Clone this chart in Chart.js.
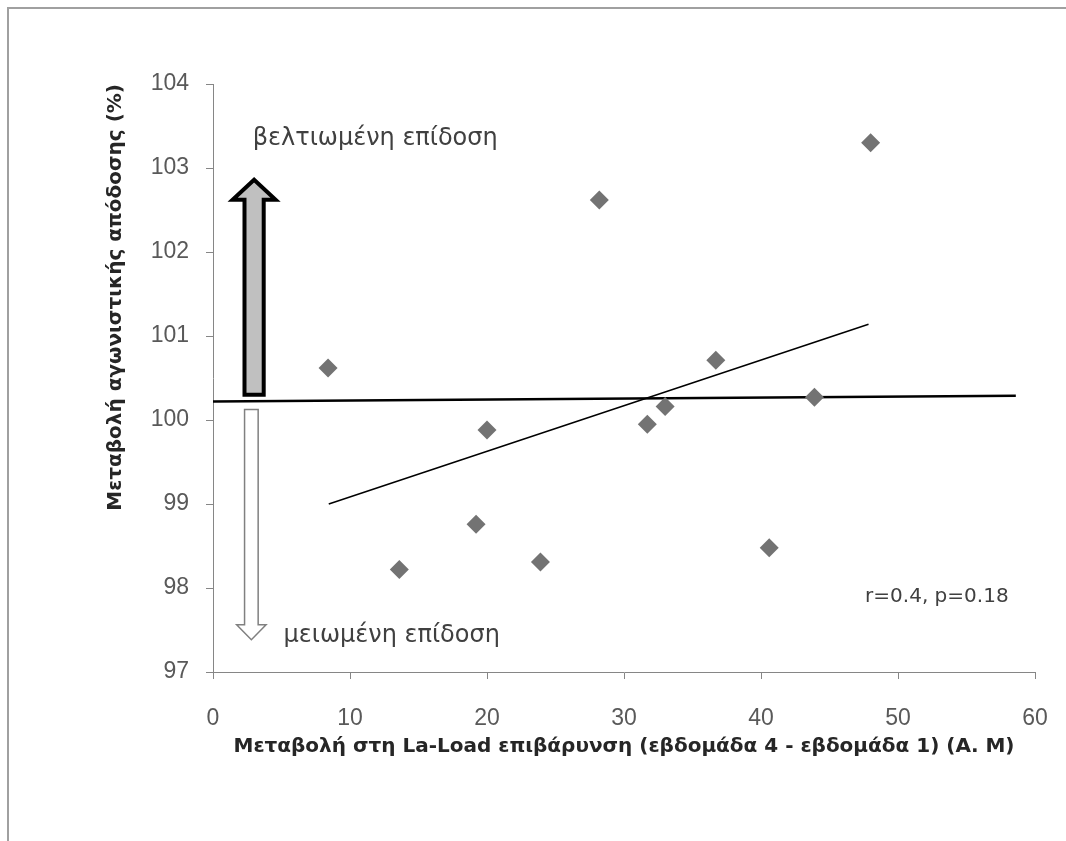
<!DOCTYPE html>
<html><head><meta charset="utf-8">
<script src="https://cdn.jsdelivr.net/npm/chart.js@4"></script>
<style>html,body{margin:0;padding:0;background:#fff;}#wrap{width:1066px;height:841px;position:relative;}</style>
</head><body><div id="wrap"><canvas id="c" width="1066" height="841" style="width:1066px;height:841px"></canvas></div>
<script>
// ---- data ----
const loadChange = [8.4, 13.6, 19.2, 20.0, 23.9, 28.2, 31.7, 33.0, 36.7, 40.6, 43.9, 48.0];
const perfChange = [100.62, 98.22, 98.76, 99.88, 98.31, 102.62, 99.95, 100.16, 100.71, 98.48, 100.27, 103.30];
const trendX = [8.45, 47.85];
const trendY = [99.0, 101.14];
const baseX = [0, 58.6];
const baseY = [100.22, 100.29];
const xTicks = [0, 10, 20, 30, 40, 50, 60];
const yTicks = [97, 98, 99, 100, 101, 102, 103, 104];
const xTitle = 'Μεταβολή στη La-Load επιβάρυνση (εβδομάδα 4 - εβδομάδα 1) (Α. Μ)';
const yTitle = 'Μεταβολή αγωνιστικής απόδοσης (%)';
const noteUp = 'βελτιωμένη επίδοση';
const noteDown = 'μειωμένη επίδοση';
const statNote = 'r=0.4, p=0.18';
// annotation anchors in data units
const upArrow = {x: 3.0, from: 100.30, to: 102.86};
const downArrow = {x: 2.8, from: 100.126, to: 97.385};
const noteUpPos = {x: 2.9, y: 103.35};
const noteDownPos = {x: 5.15, y: 97.43};
const statPos = {x: 47.6, y: 97.89};

const FONT = "'Liberation Sans', Arial, sans-serif";
const TFONT = "'DejaVu Sans', 'Liberation Sans', sans-serif";

function arrowPath(ctx, cx, yB, yT, sh, hh, hl) {
  const dir = yT < yB ? 1 : -1;
  const yH = yT + dir * hl;
  ctx.beginPath();
  ctx.moveTo(cx - sh, yB);
  ctx.lineTo(cx - sh, yH);
  ctx.lineTo(cx - hh, yH);
  ctx.lineTo(cx, yT);
  ctx.lineTo(cx + hh, yH);
  ctx.lineTo(cx + sh, yH);
  ctx.lineTo(cx + sh, yB);
  ctx.closePath();
}

const decor = {
  id: 'decor',
  beforeDraw(chart) {
    const ctx = chart.ctx;
    ctx.save();
    ctx.fillStyle = '#fff';
    ctx.fillRect(0, 0, chart.width, chart.height);
    ctx.strokeStyle = '#a0a0a0';
    ctx.lineWidth = 2;
    ctx.beginPath();
    ctx.moveTo(8, chart.height);
    ctx.lineTo(8, 8);
    ctx.lineTo(chart.width, 8);
    ctx.stroke();
    ctx.restore();
  },
  afterDatasetsDraw(chart) {
    const ctx = chart.ctx;
    const xs = chart.scales.x, ys = chart.scales.y;
    ctx.save();
    arrowPath(ctx, xs.getPixelForValue(upArrow.x), ys.getPixelForValue(upArrow.from), ys.getPixelForValue(upArrow.to), 9.6, 21.5, 20);
    ctx.fillStyle = '#c0c0c0';
    ctx.fill();
    ctx.lineJoin = 'miter';
    ctx.lineWidth = 4;
    ctx.strokeStyle = '#000';
    ctx.stroke();
    arrowPath(ctx, xs.getPixelForValue(downArrow.x), ys.getPixelForValue(downArrow.from), ys.getPixelForValue(downArrow.to), 6.8, 14.7, 15);
    ctx.fillStyle = '#fff';
    ctx.fill();
    ctx.lineWidth = 1.5;
    ctx.strokeStyle = '#808080';
    ctx.stroke();
    ctx.fillStyle = '#404040';
    ctx.textBaseline = 'middle';
    ctx.textAlign = 'left';
    ctx.font = '24px ' + TFONT;
    ctx.fillText(noteUp, xs.getPixelForValue(noteUpPos.x), ys.getPixelForValue(noteUpPos.y));
    ctx.fillText(noteDown, xs.getPixelForValue(noteDownPos.x), ys.getPixelForValue(noteDownPos.y));
    ctx.font = '20px ' + TFONT;
    ctx.fillText(statNote, xs.getPixelForValue(statPos.x), ys.getPixelForValue(statPos.y));
    ctx.restore();
  }
};

const points = loadChange.map((x, i) => ({x, y: perfChange[i]}));
const trend = trendX.map((x, i) => ({x, y: trendY[i]}));
const base = baseX.map((x, i) => ({x, y: baseY[i]}));

new Chart(document.getElementById('c'), {
  type: 'scatter',
  data: {
    datasets: [
      {data: base, showLine: true, borderColor: '#000', borderWidth: 2.5, pointRadius: 0, order: 3},
      {data: trend, showLine: true, borderColor: '#000', borderWidth: 1.5, pointRadius: 0, order: 2},
      {data: points, pointStyle: 'rectRot', pointRadius: 9.5, pointBackgroundColor: '#737373', pointBorderWidth: 0, pointBorderColor: '#737373', order: 1}
    ]
  },
  options: {
    responsive: false,
    animation: false,
    events: [],
    layout: {padding: {left: 104, top: 84, right: 31, bottom: 82}},
    plugins: {legend: {display: false}, tooltip: {enabled: false}},
    scales: {
      x: {
        type: 'linear', min: 0, max: 60,
        afterBuildTicks: s => { s.ticks = xTicks.map(v => ({value: v})); },
        afterFit: s => { s.height = 87; s.paddingLeft = 0; s.paddingRight = 0; },
        grid: {drawOnChartArea: false, drawTicks: true, tickLength: 7, color: '#868686'},
        border: {color: '#868686', width: 1},
        ticks: {font: {family: FONT, size: 23}, color: '#595959', padding: 26, maxRotation: 0},
        title: {display: true, text: xTitle, font: {family: TFONT, size: 20, weight: 'bold'}, color: '#262626', padding: 0}
      },
      y: {
        type: 'linear', min: 97, max: 104,
        afterBuildTicks: s => { s.ticks = yTicks.map(v => ({value: v})); },
        afterFit: s => { s.width = 109; s.paddingTop = 0; s.paddingBottom = 0; },
        grid: {drawOnChartArea: false, drawTicks: true, tickLength: 7, color: '#868686'},
        border: {color: '#868686', width: 1},
        ticks: {font: {family: FONT, size: 23}, color: '#595959', padding: 17},
        title: {display: true, text: yTitle, align: 'end', font: {family: TFONT, size: 20, weight: 'bold'}, color: '#262626', padding: 0}
      }
    }
  },
  plugins: [decor]
});
</script></body></html>
